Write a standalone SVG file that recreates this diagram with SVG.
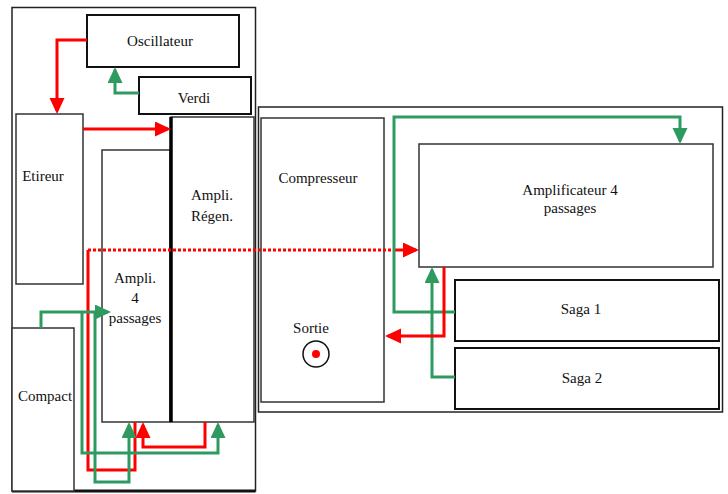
<svg xmlns="http://www.w3.org/2000/svg" width="728" height="494" viewBox="0 0 728 494">
<style>
.box{fill:#fff;stroke:#333;stroke-width:1.5}
.bold{fill:#fff;stroke:#111;stroke-width:2}
.frame{fill:none;stroke:#222;stroke-width:1.5}
.t{font-family:"Liberation Serif","Times New Roman",serif;font-size:15px;fill:#111;text-anchor:middle}
.r{fill:none;stroke:#ff0000;stroke-width:3}
.g{fill:none;stroke:#2e9a60;stroke-width:3}
.dot{fill:none;stroke:#ff0000;stroke-width:3;stroke-dasharray:3 2}
</style>
<defs>
<marker id="ar" markerUnits="userSpaceOnUse" markerWidth="16" markerHeight="16" refX="13" refY="7.5" orient="auto"><path d="M0,0 L16,7.5 L0,15 z" fill="#ff0000"/></marker>
<marker id="ag" markerUnits="userSpaceOnUse" markerWidth="16" markerHeight="16" refX="13" refY="7.5" orient="auto"><path d="M0,0 L16,7.5 L0,15 z" fill="#2e9a60"/></marker>
</defs>
<rect width="728" height="494" fill="#fff"/>
<g id="frames">
<rect class="frame" x="12" y="7.5" width="243.5" height="483.5"/>
<line x1="12" y1="491" x2="255.5" y2="491" stroke="#111" stroke-width="3"/>
<rect class="frame" x="258.5" y="107" width="464" height="305"/>
</g>
<g id="oscillateur"><rect class="bold" x="87" y="15" width="152" height="52"/><text class="t" x="160" y="46">Oscillateur</text></g>
<g id="verdi"><rect class="bold" x="139" y="77" width="112" height="37"/><text class="t" x="194" y="103">Verdi</text></g>
<g id="etireur"><rect class="box" x="16" y="114" width="67" height="170" stroke="#555"/><text class="t" x="43" y="181">Etireur</text></g>
<g id="ampli4"><rect class="box" x="102" y="150" width="68" height="272" stroke="#555"/><text class="t" x="135" y="283">Ampli.</text><text class="t" x="135" y="303">4</text><text class="t" x="135" y="323">passages</text></g>
<g id="ampliregen"><rect class="box" x="171" y="117" width="83" height="305" stroke="#555"/><line x1="171" y1="117" x2="171" y2="422" stroke="#000" stroke-width="3.5"/><text class="t" x="212" y="200">Ampli.</text><text class="t" x="212" y="221">Régen.</text></g>
<g id="compact"><rect class="box" x="12" y="328" width="62" height="163" stroke="#222"/><text class="t" x="45" y="401">Compact</text></g>
<g id="compresseur"><rect class="box" x="261" y="118" width="123" height="284" stroke="#444"/><text class="t" x="318" y="183">Compresseur</text><text class="t" x="311" y="333">Sortie</text><circle cx="316" cy="354" r="13" fill="none" stroke="#111" stroke-width="1.5"/><circle cx="316" cy="354" r="4" fill="#ff0000"/></g>
<g id="amplificateur"><rect class="box" x="419" y="144" width="294" height="123" stroke="#222"/><text class="t" x="570" y="195">Amplificateur 4</text><text class="t" x="570" y="213">passages</text></g>
<g id="saga1"><rect class="bold" x="455" y="280" width="264" height="61"/><text class="t" x="581" y="314">Saga 1</text></g>
<g id="saga2"><rect class="bold" x="455" y="348" width="264" height="61"/><text class="t" x="582" y="383">Saga 2</text></g>
<g id="connectors">
<path class="r" d="M87,40 H57 V111" marker-end="url(#ar)"/>
<path class="g" d="M139,93 H115 V70" marker-end="url(#ag)"/>
<path class="r" d="M83,129 H168" marker-end="url(#ar)"/>
<path class="dot" d="M88,250 H398"/>
<path class="r" d="M396,250 H416" marker-end="url(#ar)"/>
<path class="r" d="M135,422 V470 H88 V250"/>
<path class="r" d="M205,422 V447 H143 V425" marker-end="url(#ar)"/>
<path class="g" d="M41,328 V312 H108" marker-end="url(#ag)"/>
<path class="g" d="M82,312 V453 H218 V425" marker-end="url(#ag)"/>
<path class="g" d="M95,312 V482 H129 V425" marker-end="url(#ag)"/>
<path class="g" d="M455,312 H394 V117 H680 V141" marker-end="url(#ag)"/>
<path class="g" d="M455,377 H432 V270" marker-end="url(#ag)"/>
<path class="r" d="M444,267 V336 H388" marker-end="url(#ar)"/>
</g>
</svg>
